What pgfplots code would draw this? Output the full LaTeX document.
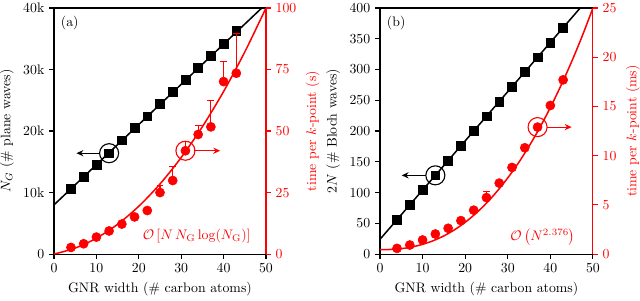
\documentclass[border=0pt]{standalone}
\usepackage{pgfplots}
\pgfplotsset{compat=1.18}
\usetikzlibrary{arrows.meta}
\definecolor{myred}{RGB}{255,0,0}
\pgfplotstableread{
x y
4 10.56
7 12.6
10 14.5
13 16.4
16 18.5
19 20.5
22 22.4
25 24.4
28 26.4
31 28.4
34 30.3
37 32.2
40 34.2
43 36.3
}\tabNG
\pgfplotstableread{
x y e
4 2.7 0
7 4.2 0
10 6.9 0
13 9.4 0
16 12.2 0
19 15.1 0
22 17.7 0
25 25.0 2.9
28 29.9 5.7
31 42.0 3.8
34 48.6 3.6
37 51.7 10.7
40 70.1 8.1
43 73.5 16.3
}\tabTa
\pgfplotstableread{
x y
4 56
7 80
10 104
13 128
16 152
19 176
22 200
25 224
28 248
31 272
34 296
37 320
40 344
43 368
}\tabNB
\pgfplotstableread{
x y e
4 0.58 0
7 0.92 0
10 1.43 0
13 2.04 0
16 2.62 0
19 3.4 0
22 4.46 0
25 5.74 0.62
28 7.21 0
31 8.8 0
34 10.8 0
37 12.9 0
40 15.1 0
43 17.7 0
}\tabTb
\begin{document}
\begin{tikzpicture}
\useasboundingbox (-39.13pt,-33.33pt) rectangle (424.6pt,184.1pt);
\pgfplotsset{
  base/.style={scale only axis, width=153.6pt, height=178.3pt, anchor=south west,
    xmin=0, xmax=50, xtick={0,10,20,30,40,50},
    tick align=outside, major tick length=3.5pt,
    axis line style={line width=0.8pt}, tick style={line width=0.8pt},
    clip=true},
  leftax/.style={base, xtick pos=bottom, ytick pos=left,
    xlabel={GNR width (\# carbon atoms)}, tick style={black}},
  rightax/.style={base, axis x line=none, axis y line*=right,
    y axis line style={myred, line width=0.8pt}, ytick style={myred},
    yticklabel style={myred}, ylabel style={myred}},
  sq/.style={only marks, mark=square*, mark size=3.2pt, black},
  circ/.style={only marks, mark=*, mark size=3.3pt, myred,
    error bars/.cd, y dir=plus, y explicit,
    error bar style={line width=0.8pt, myred},
    error mark options={rotate=90, mark size=2.5pt, line width=0.8pt, myred}},
  ring/.style={only marks, mark=o, mark size=6.9pt, line width=0.8pt},
  arr/.style={line width=0.8pt, -{Stealth[length=5pt,width=4.5pt]}},
}
% ---------------- panel (a)
\begin{axis}[leftax, at={(0pt,0pt)}, ymin=0, ymax=40,
  ytick={0,10,20,30,40}, yticklabels={0,10k,20k,30k,40k},
  ylabel={$N_G$ (\# plane waves)}]
\addplot[black, line width=1.1pt] coordinates {(0,8) (49,40)};
\addplot[sq] table[x=x,y=y] {\tabNG};
\addplot[ring, black] coordinates {(13,16.4)};
\addplot[arr, black] coordinates {(10.7,16.4) (5.3,16.4)};
\node[anchor=north west, inner sep=1pt] at (rel axis cs:0.025,0.975) {(a)};
\end{axis}
\begin{axis}[rightax, at={(0pt,0pt)}, ymin=0, ymax=100,
  ytick={0,25,50,75,100}, ylabel={time per $k$-point (s)}]
\addplot[myred, line width=1.1pt, smooth] coordinates {(0,0) (5,2.44) (10,6.46) (15,12.11) (20,19.44) (25,28.48) (30,39.25) (35,51.77) (40,66.06) (45,82.14) (50,100)};
\addplot[circ] table[x=x,y=y,y error=e] {\tabTa};
\addplot[ring, myred] coordinates {(31,42.0)};
\addplot[arr, myred] coordinates {(33.1,42.0) (39.2,42.0)};
\node[anchor=east, text=myred] at (rel axis cs:0.95,0.075) {$\mathcal{O}\left[N\,N_{\mathrm{G}}\log(N_{\mathrm{G}})\right]$};
\end{axis}
% ---------------- panel (b)
\begin{axis}[leftax, at={(236.2pt,0pt)}, width=154.3pt, ymin=0, ymax=400,
  ytick={0,50,100,150,200,250,300,350,400},
  ylabel={$2N$ (\# Bloch waves)}]
\addplot[black, line width=1.1pt] coordinates {(0,24) (47,400)};
\addplot[sq] table[x=x,y=y] {\tabNB};
\addplot[ring, black] coordinates {(13,128)};
\addplot[arr, black] coordinates {(10.8,128) (5.1,128)};
\node[anchor=north west, inner sep=1pt] at (rel axis cs:0.025,0.975) {(b)};
\end{axis}
\begin{axis}[rightax, at={(236.2pt,0pt)}, width=154.3pt, ymin=0, ymax=25,
  ytick={0,5,10,15,20,25}, ylabel={time per $k$-point (ms)}]
\addplot[myred, line width=1.1pt, smooth] coordinates {(0,0.45) (2.5,0.47) (5,0.55) (7.5,0.72) (10,0.99) (12.5,1.36) (15,1.85) (17.5,2.47) (20,3.23) (22.5,4.13) (25,5.17) (27.5,6.38) (30,7.74) (32.5,9.26) (35,10.96) (37.5,12.83) (40,14.89) (42.5,17.13) (45,19.55) (47.5,22.17) (50,25.0)};
\addplot[circ] table[x=x,y=y,y error=e] {\tabTb};
\addplot[ring, myred] coordinates {(37,12.9)};
\addplot[arr, myred] coordinates {(39.1,12.9) (45.0,12.9)};
\node[anchor=east, text=myred] at (rel axis cs:0.94,0.07) {$\mathcal{O}\left(N^{2.376}\right)$};
\end{axis}
\end{tikzpicture}
\end{document}
